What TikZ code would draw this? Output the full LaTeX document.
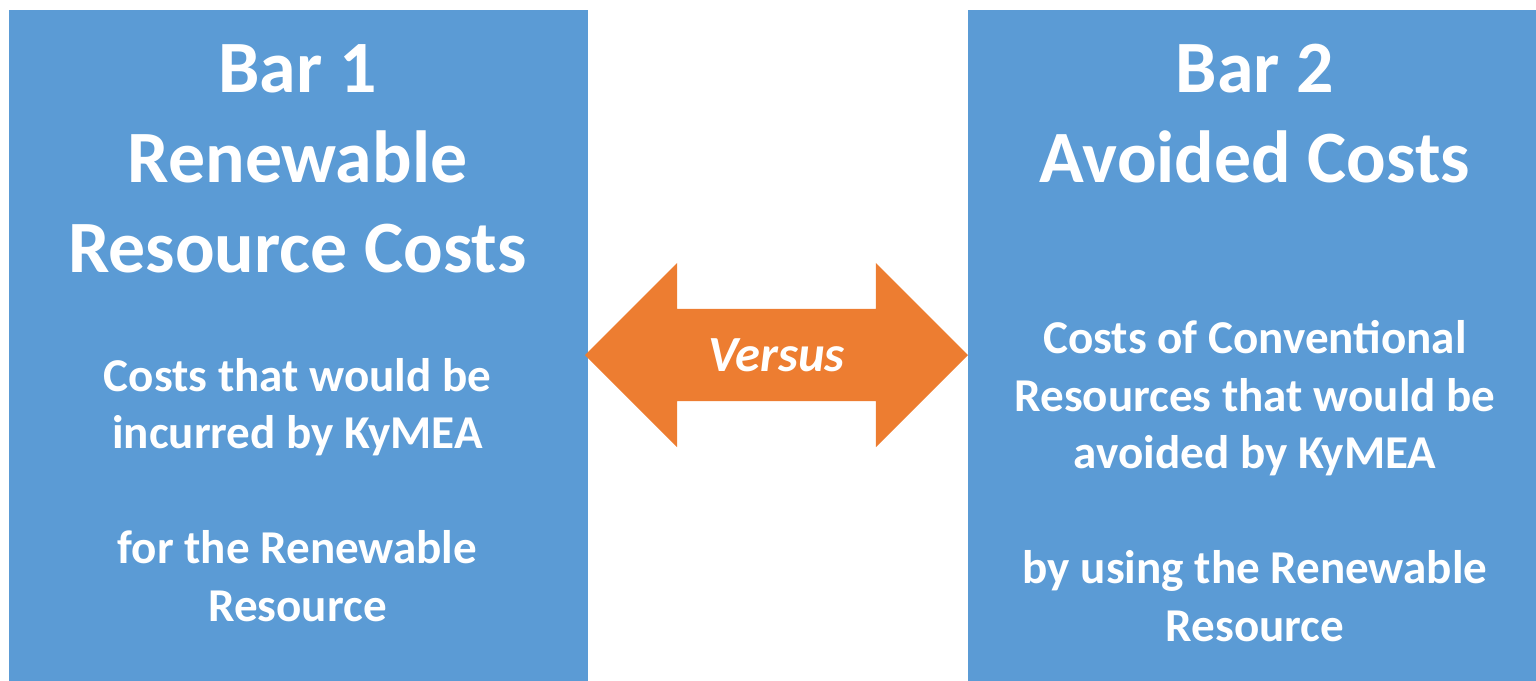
\documentclass[tikz,border=0pt]{standalone}
\usepackage{fontspec}
\setmainfont{Carlito}
\usetikzlibrary{positioning,shapes.arrows}

\definecolor{barblue}{HTML}{5B9BD5}
\definecolor{arroworange}{HTML}{ED7D31}

\begin{document}
\begin{tikzpicture}[
      align=center,
      bar/.style={
        rectangle,
        fill=barblue,
        draw=none,
        anchor=north west,
        minimum height=6.71cm,
        inner sep=0pt
      },
      title/.style={
        text=white,
        anchor=base,
        font=\bfseries\fontsize{21}{25.6}\selectfont
      },
      body/.style={
        text=white,
        anchor=base,
        font=\bfseries\fontsize{13.4}{16.35}\selectfont
      },
      versus/.style={
        double arrow,
        fill=arroworange,
        draw=none,
        text=white,
        minimum height=3.83cm,
        text height=0.32cm,
        text depth=0cm,
        inner ysep=0.295cm,
        double arrow head extend=0.46cm,
        font=\bfseries\itshape\fontsize{14.4}{17}\selectfont
      }
    ]

      \useasboundingbox (0,0) rectangle (15.36,-6.80);

      \node[bar, minimum width=5.79cm] (bar1) at (0.08,-0.09) {};
      \node[bar, minimum width=5.69cm] (bar2) at (9.67,-0.09) {};

      % anchor=base sits on the last line
      \node[title] (title1) at (2.975,-2.72) {Bar 1\\Renewable\\Resource Costs};
      \node[body] (text1) at (2.975,-6.21) {Costs that would be\\incurred by KyMEA\\\\for the Renewable\\Resource};

      \node[title] (title2) at (12.55,-1.82) {Bar 2\\Avoided Costs};
      \node[body] (text2) at (12.55,-6.41) {Costs of Conventional\\Resources that would be\\avoided by KyMEA\\\\by using the Renewable\\Resource};

      \node[versus] (versus) at (7.765,-3.55) {Versus};
    \end{tikzpicture}
\end{document}
